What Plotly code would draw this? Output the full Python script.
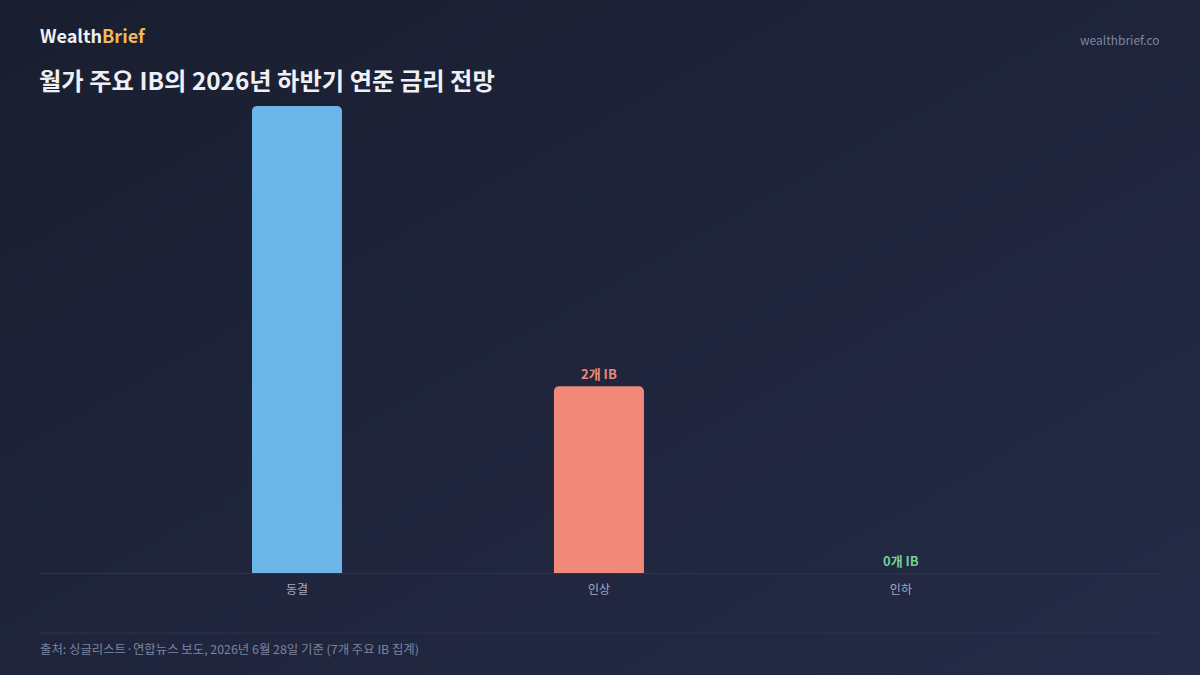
import plotly.graph_objects as go
import urllib.parse

categories = ["동결", "인상", "인하"]
counts = [5, 2, 0]
bar_colors = ["#6cb5e9", "#f0897a", "#6fd08f"]
label_suffix = "개 IB"
label_positions = ["none", "outside", "outside"]

title_text = "월가 주요 IB의 2026년 하반기 연준 금리 전망"
source_text = "출처: 싱글리스트·연합뉴스 보도, 2026년 6월 28일 기준 (7개 주요 IB 집계)"

W, H = 1200, 675
L, R, T, B = 40, 40, 106, 102
PW, PH = W - L - R, H - T - B

def px(x):
    return (x - L) / PW

def py(y):
    return (H - B - y) / PH

FONT = "Noto Sans CJK KR"

svg = (
    "<svg xmlns='http://www.w3.org/2000/svg' width='1200' height='675'>"
    "<defs><linearGradient id='g' x1='0' y1='0' x2='1' y2='1'>"
    "<stop offset='0' stop-color='#191e2f'/><stop offset='1' stop-color='#252b47'/>"
    "</linearGradient></defs><rect width='1200' height='675' fill='url(#g)'/></svg>"
)
bg_uri = "data:image/svg+xml;charset=utf-8," + urllib.parse.quote(svg)

labels = [f"{v}{label_suffix}" for v in counts]

fig = go.Figure()
fig.add_trace(go.Bar(
    x=categories,
    y=counts,
    width=0.298,
    marker=dict(color=bar_colors, cornerradius=5, line=dict(width=0)),
    text=labels,
    textposition=label_positions,
    textfont=dict(family=FONT, size=13, color=bar_colors, weight="bold"),
    cliponaxis=True,
    hoverinfo="skip",
))

fig.update_layout(
    width=W, height=H,
    margin=dict(l=L, r=R, t=T, b=B),
    paper_bgcolor="#1d2236",
    plot_bgcolor="rgba(0,0,0,0)",
    showlegend=False,
    font=dict(family=FONT, color="#a6abbf"),
    images=[dict(source=bg_uri, xref="paper", yref="paper",
                 x=px(0), y=py(0), sizex=W / PW, sizey=H / PH,
                 xanchor="left", yanchor="top", sizing="stretch", layer="below")],
    xaxis=dict(
        range=[-0.851, 2.858], showgrid=False, zeroline=False,
        showline=True, linecolor="#2c3350", linewidth=1,
        ticks="outside", ticklen=6, tickcolor="rgba(0,0,0,0)",
        tickfont=dict(family=FONT, size=12, color="#a6abbf"),
        fixedrange=True,
    ),
    yaxis=dict(range=[0, 5], visible=False, showgrid=False, zeroline=False, fixedrange=True),
    annotations=[
        dict(text="<b>Wealth<span style='color:#f0b95a'>Brief</span></b>",
             xref="paper", yref="paper", x=px(38), y=py(35),
             xanchor="left", yanchor="middle", showarrow=False,
             font=dict(family=FONT, size=18, color="#eef0f6")),
        dict(text="wealthbrief.co", xref="paper", yref="paper", x=px(1162), y=py(39),
             xanchor="right", yanchor="middle", showarrow=False,
             font=dict(family=FONT, size=12, color="#7d84a0")),
        dict(text=f"<b>{title_text}</b>", xref="paper", yref="paper", x=px(37), y=py(79),
             xanchor="left", yanchor="middle", showarrow=False,
             font=dict(family=FONT, size=24.3, color="#eef0f6")),
        dict(text=source_text, xref="paper", yref="paper", x=px(38), y=py(649),
             xanchor="left", yanchor="middle", showarrow=False,
             font=dict(family=FONT, size=12.4, color="#7d84a0")),
    ],
    shapes=[
        dict(type="line", xref="paper", yref="paper", x0=px(40), x1=px(1160),
             y0=py(633), y1=py(633), line=dict(color="#2c3350", width=1)),
    ],
)

fig.write_html("out.html")
